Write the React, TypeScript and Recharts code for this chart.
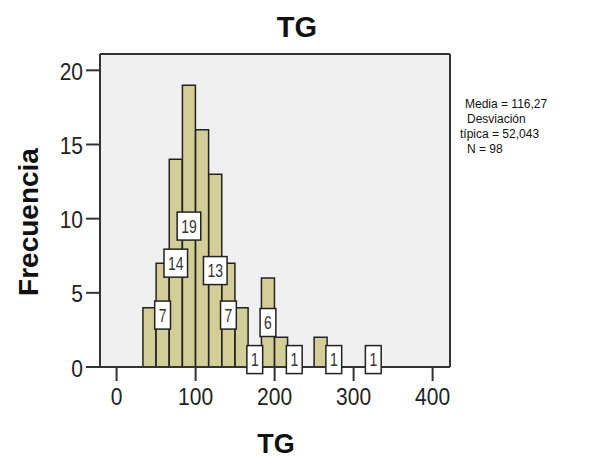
import { BarChart, Bar, XAxis, YAxis, CartesianGrid, LabelList } from "recharts";

// TG classes (centre of each 16.67-wide bin) and how many cases fall in each
const binCenters = [
  41.67, 58.33, 75, 91.67, 108.33, 125, 141.67, 158.33, 175, 191.67, 208.33,
  225, 241.67, 258.33, 275, 291.67, 308.33, 325,
];
const frequencies = [4, 7, 14, 19, 16, 13, 7, 4, 1, 6, 2, 1, 0, 2, 1, 0, 0, 1];
// bins that get a count box drawn on them
const labelledBins = [1, 2, 3, 5, 6, 8, 9, 11, 14, 17];

const xTicks = [0, 100, 200, 300, 400];
const yTicks = [0, 5, 10, 15, 20];
const X_DOMAIN: [number, number] = [-21, 422];
const Y_DOMAIN: [number, number] = [0, 21.1];

const statsLines = ["Media = 116,27", "Desviación", "típica = 52,043", "N = 98"];

const FONT = '"Liberation Sans", Arial, Helvetica, sans-serif';
const INK = "#333";
const BAR_FILL = "#d3ce97";
const PANEL = "#f0f0f0";

const data = binCenters.map((x, i) => ({
  x,
  count: frequencies[i],
  label: labelledBins.includes(i) ? frequencies[i] : null,
}));

const XTick = (props: any) => {
  const { x, y, payload } = props;
  return (
    <g transform={`translate(${x},${y + 22}) scale(1,1.15)`}>
      <text textAnchor="middle" fontSize={21} fill="#222" fontFamily={FONT}>
        {payload.value}
      </text>
    </g>
  );
};

const YTick = (props: any) => {
  const { x, y, payload } = props;
  return (
    <g transform={`translate(${x - 1},${y + 9.5}) scale(1,1.15)`}>
      <text textAnchor="end" fontSize={21} fill="#222" fontFamily={FONT}>
        {payload.value}
      </text>
    </g>
  );
};

// white boxed count, centred on the middle of its bar
const CountBox = (props: any) => {
  const { value } = props;
  if (value == null) return null;
  const vb = props.viewBox ?? props;
  const cx = vb.x + vb.width / 2;
  const cy = vb.y + vb.height / 2;
  const w = String(value).length * 7.8 + 8;
  const h = 28;
  return (
    <g>
      <rect
        x={cx - w / 2}
        y={cy - h / 2}
        width={w}
        height={h}
        fill="#fff"
        stroke="#222"
        strokeWidth={1.5}
      />
      <g transform={`translate(${cx},${cy + 6.5}) scale(1,1.3)`}>
        <text textAnchor="middle" fontSize={14} fill={INK} fontFamily={FONT}>
          {value}
        </text>
      </g>
    </g>
  );
};

const frameLine = { stroke: INK, strokeWidth: 2 };

export default function App() {
  return (
    <div
      style={{
        position: "absolute",
        left: 0,
        top: 0,
        width: 598,
        height: 460,
        background: "#fff",
      }}
    >
      <BarChart
        width={598}
        height={460}
        data={data}
        margin={{ top: 54, right: 148, bottom: 0, left: 0 }}
        barCategoryGap={0}
        barGap={0}
      >
        {/* grey panel; the top and right edges of the frame come from the grid */}
        <CartesianGrid
          fill={PANEL}
          stroke={INK}
          strokeWidth={2}
          horizontalValues={[Y_DOMAIN[1]]}
          verticalValues={[X_DOMAIN[1]]}
        />
        <XAxis
          dataKey="x"
          type="number"
          domain={X_DOMAIN}
          ticks={xTicks}
          interval={0}
          allowDataOverflow
          height={93}
          tickSize={14}
          axisLine={frameLine}
          tickLine={frameLine}
          tick={<XTick />}
        />
        <YAxis
          type="number"
          domain={Y_DOMAIN}
          ticks={yTicks}
          interval={0}
          allowDataOverflow
          width={100}
          tickSize={14}
          axisLine={frameLine}
          tickLine={frameLine}
          tick={<YTick />}
        />
        <Bar
          dataKey="count"
          fill={BAR_FILL}
          stroke="#222"
          strokeWidth={1.5}
          isAnimationActive={false}
        >
          <LabelList dataKey="label" content={CountBox} />
        </Bar>
      </BarChart>

      <svg
        width={598}
        height={460}
        style={{ position: "absolute", left: 0, top: 0, pointerEvents: "none" }}
        fontFamily={FONT}
      >
        <text x={297} y={37} textAnchor="middle" fontSize={29} fontWeight="bold" fill="#111">
          TG
        </text>
        <text x={276} y={453} textAnchor="middle" fontSize={27} fontWeight="bold" fill="#111">
          TG
        </text>
        <text
          x={38}
          y={222}
          textAnchor="middle"
          fontSize={28}
          fontWeight="bold"
          fill="#111"
          transform="rotate(-90, 38, 222)"
        >
          Frecuencia
        </text>
        {statsLines.map((line, i) => (
          <text
            key={line}
            x={[465, 467, 460, 467][i]}
            y={108 + i * 15}
            fontSize={12}
            fill="#111"
          >
            {line}
          </text>
        ))}
      </svg>
    </div>
  );
}
